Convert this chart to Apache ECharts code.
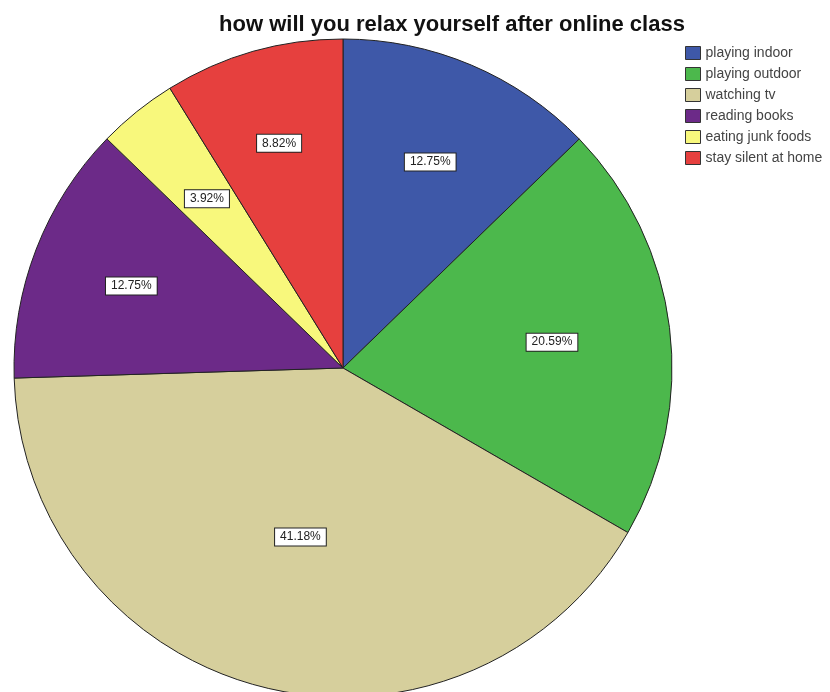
<!DOCTYPE html>
<html><head><meta charset="utf-8">
<script src="https://cdn.jsdelivr.net/npm/echarts@6/dist/echarts.min.js"></script>
<style>html,body{margin:0;padding:0;background:#fff}#c{width:830px;height:692px}</style>
</head><body><div id="c"></div>
<script>
var categories = ['playing indoor','playing outdoor','watching tv','reading books','eating junk foods','stay silent at home'];
var values = [12.75, 20.59, 41.18, 12.75, 3.92, 8.82];
var colors = ['#3e58a8','#4cb84c','#d6cf9c','#6c2a88','#f8f87c','#e6403e'];
// label distance from centre, as fraction of radius (style)
var labelRadius = [0.68, 0.64, 0.53, 0.69, 0.66, 0.71];
var CX = 343, CY = 368, R = 329;
var chart = echarts.init(document.getElementById('c'));
chart.setOption({
  animation: false,
  title: {text: 'how will you relax yourself after online class', left: 447, top: 9, textAlign: 'center',
    textStyle: {fontFamily: 'Liberation Sans', fontSize: 22, fontWeight: 'bold', color: '#111'}},
  legend: {orient: 'vertical', left: 680, top: 41, itemWidth: 15, itemHeight: 13, itemGap: 7,
    icon: 'rect', itemStyle: {borderColor: '#333', borderWidth: 1},
    textStyle: {fontFamily: 'Liberation Sans', fontSize: 14, color: '#444'},
    data: categories},
  series: [{
    type: 'pie', center: [CX, CY], radius: R, startAngle: 90, clockwise: true,
    itemStyle: {borderColor: '#222', borderWidth: 1},
    label: {show: true, position: 'inside', formatter: '{c}%', fontFamily: 'Liberation Sans', fontSize: 12,
      color: '#222', backgroundColor: '#fff', borderColor: '#222', borderWidth: 1, padding: [3,5,2,5]},
    labelLayout: function (p) {
      var r = p.labelRect;
      var lx = r.x + r.width / 2, ly = r.y + r.height / 2;
      var d = Math.sqrt((lx - CX) * (lx - CX) + (ly - CY) * (ly - CY));
      var k = labelRadius[p.dataIndex] * R / d;
      return {dx: (lx - CX) * (k - 1), dy: (ly - CY) * (k - 1)};
    },
    emphasis: {disabled: true},
    data: categories.map(function (n, i) { return {name: n, value: values[i], itemStyle: {color: colors[i]}}; })
  }]
});
</script></body></html>
